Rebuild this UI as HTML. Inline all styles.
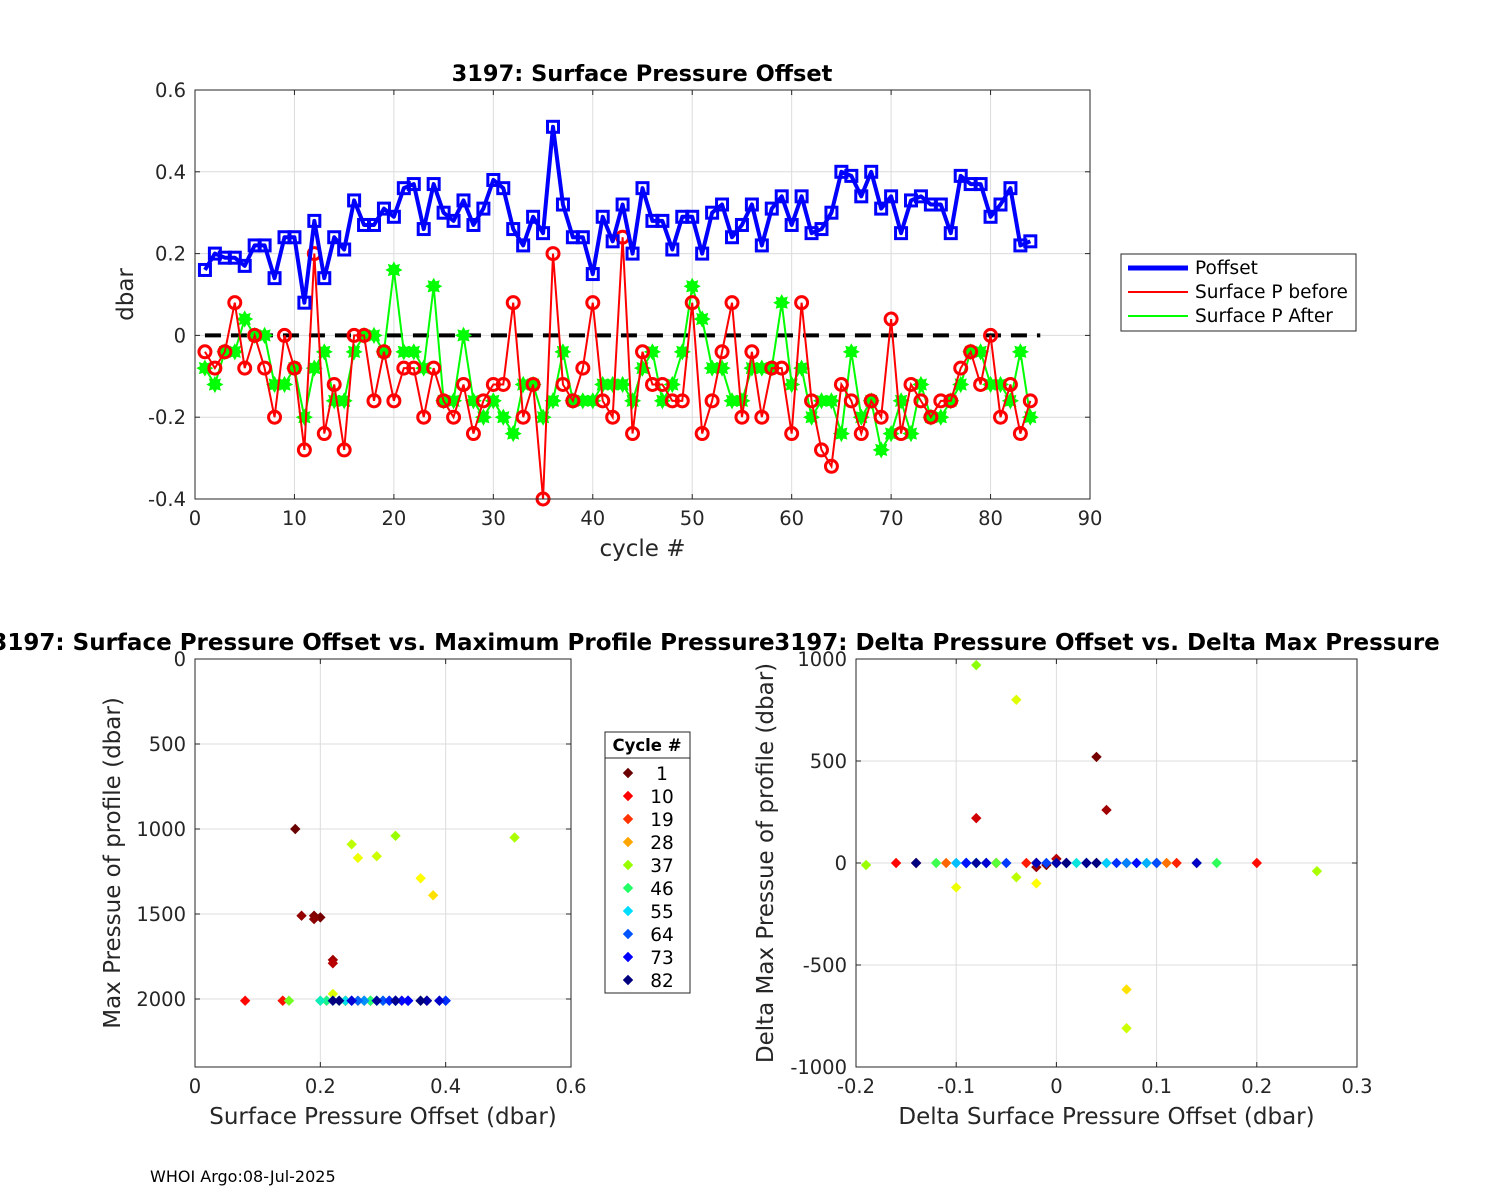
<!DOCTYPE html>
<html><head><meta charset="utf-8"><style>
html,body{margin:0;padding:0;background:#fff;}
svg{display:block;font-family:"DejaVu Sans","Liberation Sans",sans-serif;}
</style></head><body>
<svg id="fig" width="1500" height="1200" viewBox="0 0 1500 1200" xmlns="http://www.w3.org/2000/svg"></svg>
<script>
const cycles = [];for(let i=1;i<=84;i++)cycles.push(i);
const poffset = [0.16,0.20,0.19,0.19,0.17,0.22,0.22,0.14,0.24,0.24,0.08,0.28,0.14,0.24,0.21,0.33,0.27,0.27,0.31,0.29,0.36,0.37,0.26,0.37,0.30,0.28,0.33,0.27,0.31,0.38,0.36,0.26,0.22,0.29,0.25,0.51,0.32,0.24,0.24,0.15,0.29,0.23,0.32,0.20,0.36,0.28,0.28,0.21,0.29,0.29,0.20,0.30,0.32,0.24,0.27,0.32,0.22,0.31,0.34,0.27,0.34,0.25,0.26,0.30,0.40,0.39,0.34,0.40,0.31,0.34,0.25,0.33,0.34,0.32,0.32,0.25,0.39,0.37,0.37,0.29,0.32,0.36,0.22,0.23];
const pBefore = [-0.04,-0.08,-0.04,0.08,-0.08,0.0,-0.08,-0.20,0.0,-0.08,-0.28,0.20,-0.24,-0.12,-0.28,0.0,0.0,-0.16,-0.04,-0.16,-0.08,-0.08,-0.20,-0.08,-0.16,-0.20,-0.12,-0.24,-0.16,-0.12,-0.12,0.08,-0.20,-0.12,-0.40,0.20,-0.12,-0.16,-0.08,0.08,-0.16,-0.20,0.24,-0.24,-0.04,-0.12,-0.12,-0.16,-0.16,0.08,-0.24,-0.16,-0.04,0.08,-0.20,-0.04,-0.20,-0.08,-0.08,-0.24,0.08,-0.16,-0.28,-0.32,-0.12,-0.16,-0.24,-0.16,-0.20,0.04,-0.24,-0.12,-0.16,-0.20,-0.16,-0.16,-0.08,-0.04,-0.12,0.0,-0.20,-0.12,-0.24,-0.16];
const pAfter = [-0.08,-0.12,-0.04,-0.04,0.04,0.0,0.0,-0.12,-0.12,-0.08,-0.20,-0.08,-0.04,-0.16,-0.16,-0.04,0.0,0.0,-0.04,0.16,-0.04,-0.04,-0.08,0.12,-0.16,-0.16,0.0,-0.16,-0.20,-0.16,-0.20,-0.24,-0.12,-0.12,-0.20,-0.16,-0.04,-0.16,-0.16,-0.16,-0.12,-0.12,-0.12,-0.16,-0.08,-0.04,-0.16,-0.12,-0.04,0.12,0.04,-0.08,-0.08,-0.16,-0.16,-0.08,-0.08,-0.08,0.08,-0.12,-0.08,-0.20,-0.16,-0.16,-0.24,-0.04,-0.20,-0.16,-0.28,-0.24,-0.16,-0.24,-0.12,-0.20,-0.20,-0.16,-0.12,-0.04,-0.04,-0.12,-0.12,-0.16,-0.04,-0.20];
const maxP = [1000,1520,1510,1530,1510,1770,1790,2010,2010,2010,2010,2010,2010,2010,2010,2010,2010,2010,2010,2010,2010,2010,2010,2010,2010,2010,2010,2010,2010,1390,1290,1170,1970,1160,1090,1050,1040,2010,2010,2010,2010,2010,2010,2010,2010,2010,2010,2010,2010,2010,2010,2010,2010,2010,2010,2010,2010,2010,2010,2010,2010,2010,2010,2010,2010,2010,2010,2010,2010,2010,2010,2010,2010,2010,2010,2010,2010,2010,2010,2010,2010,2010,2010,2010];
const legendCycles = [1,10,19,28,37,46,55,64,73,82];
const legendColors = ["#6b0000","#ff0000","#ff3300","#ffa500","#99ff00","#22ff66","#00ddff","#0055ff","#0000ff","#00007f"];
const cmapCycles = [1,6,10,19,28,31,37,46,55,64,73,82];
const cmapColors = ["#6b0000","#a00000","#ff0000","#ff3300","#ffa500","#ffff00","#99ff00","#22ff66","#00ddff","#0055ff","#0000ff","#00007f"];
const topXTicks = [0,10,20,30,40,50,60,70,80,90];
const topYTicks = [0.6,0.4,0.2,0,-0.2,-0.4];
const blXTicks = [0,0.2,0.4,0.6];
const blYTicks = [0,500,1000,1500,2000];
const brXTicks = [-0.2,-0.1,0,0.1,0.2,0.3];
const brYTicks = [1000,500,0,-500,-1000];

const NS="http://www.w3.org/2000/svg";
const svg=document.getElementById('fig');
function mk(tag,attrs,parent,text){const e=document.createElementNS(NS,tag);for(const k in attrs)e.setAttribute(k,attrs[k]);if(text!==undefined)e.textContent=text;(parent||svg).appendChild(e);return e;}
function hex(c){return [parseInt(c.substr(1,2),16),parseInt(c.substr(3,2),16),parseInt(c.substr(5,2),16)];}
function cycColor(c){
  if(c<=cmapCycles[0])return cmapColors[0];
  for(let i=0;i<cmapCycles.length-1;i++){if(c<=cmapCycles[i+1]){const t=(c-cmapCycles[i])/(cmapCycles[i+1]-cmapCycles[i]);const a=hex(cmapColors[i]),b=hex(cmapColors[i+1]);return 'rgb('+a.map((v,j)=>Math.round(v+(b[j]-v)*t)).join(',')+')';}}
  return cmapColors[cmapColors.length-1];
}
function fmt(v){return (Math.round(v*10)/10).toString();}
function axes(g,x0,y0,x1,y1,xs,ys,xt,yt){
  xt.forEach(v=>{const x=xs(v);if(x>x0+1&&x<x1-1){const l=mk('line',{x1:x,x2:x,y1:y0,y2:y1,stroke:'#dcdcdc','stroke-width':1},g);}});
  yt.forEach(v=>{const y=ys(v);if(y>y0+1&&y<y1-1){const l=mk('line',{x1:x0,x2:x1,y1:y,y2:y,stroke:'#dcdcdc','stroke-width':1},g);}});
}
function frame(g,x0,y0,x1,y1,xs,ys,xt,yt,xlab,ylab,xlabY,ylabX){
  const r=mk('rect',{x:x0,y:y0,width:x1-x0,height:y1-y0,fill:'none',stroke:'#262626','stroke-width':1},g);
  
  xt.forEach(v=>{const x=xs(v);mk('line',{x1:x,x2:x,y1:y1,y2:y1-5,stroke:'#262626'},g);mk('line',{x1:x,x2:x,y1:y0,y2:y0+5,stroke:'#262626'},g);
    const t=mk('text',{x:x,y:y1+26,'text-anchor':'middle','font-size':19.5,fill:'#262626'},g,fmt(v));});
  yt.forEach(v=>{const y=ys(v);mk('line',{x1:x0,x2:x0+5,y1:y,y2:y,stroke:'#262626'},g);mk('line',{x1:x1,x2:x1-5,y1:y,y2:y,stroke:'#262626'},g);
    const t=mk('text',{x:x0-9,y:y+7,'text-anchor':'end','font-size':19.5,fill:'#262626'},g,fmt(v));});
  const xl=mk('text',{x:(x0+x1)/2,y:xlabY,'text-anchor':'middle','font-size':23,fill:'#262626'},g,xlab);
  const yl=mk('text',{x:ylabX,y:(y0+y1)/2,'text-anchor':'middle','font-size':23,fill:'#262626',transform:'rotate(-90 '+ylabX+' '+(y0+y1)/2+')'},g,ylab);
}
function star(g,x,y,color){
  const pts=[];for(let i=0;i<16;i++){const a=i*Math.PI/8;const r=i%2?4:6.5;pts.push((x+r*Math.cos(a)).toFixed(1)+','+(y+r*Math.sin(a)).toFixed(1));}
  return mk('polygon',{points:pts.join(' '),fill:color,stroke:color,'stroke-width':2},g);
}
function diamond(g,x,y,color){return mk('polygon',{points:`${x},${y-4.5} ${x+4.5},${y} ${x},${y+4.5} ${x-4.5},${y}`,fill:color,stroke:color,'stroke-width':1},g);}

// ===== TOP =====
{
const g=mk('g',{});
const x0=195,x1=1090,y0=90,y1=499;
const xs=v=>x0+(v-0)/90*(x1-x0), ys=v=>y0+(0.6-v)/1.0*(y1-y0);
axes(g,x0,y0,x1,y1,xs,ys,topXTicks,topYTicks);
const z=mk('line',{x1:xs(1),x2:xs(85),y1:ys(0),y2:ys(0),stroke:'#000','stroke-width':4,'stroke-dasharray':'16,10'},g);
const gp=mk('polyline',{points:cycles.map((c,i)=>xs(c)+','+ys(pAfter[i])).join(' '),fill:'none',stroke:'#00ff00','stroke-width':2},g);
cycles.forEach((c,i)=>{const s=star(g,xs(c),ys(pAfter[i]),'#00ff00');});
const rp=mk('polyline',{points:cycles.map((c,i)=>xs(c)+','+ys(pBefore[i])).join(' '),fill:'none',stroke:'#ff0000','stroke-width':2},g);
cycles.forEach((c,i)=>{const s=mk('circle',{cx:xs(c),cy:ys(pBefore[i]),r:6,fill:'none',stroke:'#ff0000','stroke-width':3},g);});
const bp=mk('polyline',{points:cycles.map((c,i)=>xs(c)+','+ys(poffset[i])).join(' '),fill:'none',stroke:'#0000ff','stroke-width':4,'stroke-linejoin':'round'},g);
cycles.forEach((c,i)=>{const s=mk('rect',{x:xs(c)-5.5,y:ys(poffset[i])-5.5,width:11,height:11,fill:'none',stroke:'#0000ff','stroke-width':3},g);});
frame(g,x0,y0,x1,y1,xs,ys,topXTicks,topYTicks,'cycle #','dbar',556,133);
const t=mk('text',{x:642,y:81,'text-anchor':'middle','font-size':22.5,'font-weight':'bold',fill:'#000'},g,'3197: Surface Pressure Offset');
const lg=mk('g',{},g);
mk('rect',{x:1121,y:254,width:235,height:77,fill:'#fff',stroke:'#262626'},lg);
const items=[['Poffset','#0000ff',5],['Surface P before','#ff0000',2],['Surface P After','#00ff00',2]];
items.forEach((it,i)=>{const y=268+i*24;const e=mk('g',{},lg);
  mk('line',{x1:1128,x2:1188,y1:y,y2:y,stroke:it[1],'stroke-width':it[2]},e);
  mk('text',{x:1195,y:y+6,'font-size':18.5,fill:'#000'},e,it[0]);});
}
// ===== BOTTOM LEFT =====
{
const g=mk('g',{});
const x0=195,x1=571,y0=659,y1=1067;
const xs=v=>x0+v/0.6*(x1-x0), ys=v=>y0+v/2400*(y1-y0);
axes(g,x0,y0,x1,y1,xs,ys,blXTicks,blYTicks);
cycles.forEach((c,i)=>{const d=diamond(g,xs(poffset[i]),ys(maxP[i]),cycColor(c));});
frame(g,x0,y0,x1,y1,xs,ys,blXTicks,blYTicks,'Surface Pressure Offset (dbar)','Max Pressue of profile (dbar)',1124,120);
const t=mk('text',{x:383,y:650,'text-anchor':'middle','font-size':23,'font-weight':'bold',fill:'#000'},g,'3197: Surface Pressure Offset vs. Maximum Profile Pressure');
const lg=mk('g',{},g);
mk('rect',{x:605,y:732,width:85,height:261,fill:'#fff',stroke:'#262626'},lg);
mk('line',{x1:605,x2:690,y1:758,y2:758,stroke:'#262626'},lg);
mk('text',{x:647,y:751,'text-anchor':'middle','font-size':16.5,'font-weight':'bold',fill:'#000'},lg,'Cycle #');
legendCycles.forEach((c,i)=>{const y=773+i*23;const e=mk('g',{},lg);
  diamond(e,628,y,legendColors[i]);mk('text',{x:662,y:y+7,'text-anchor':'middle','font-size':18.5,fill:'#000'},e,String(c));});
}
// ===== BOTTOM RIGHT =====
{
const g=mk('g',{});
const x0=856,x1=1357,y0=659,y1=1067;
const xs=v=>x0+(v+0.2)/0.5*(x1-x0), ys=v=>y0+(1000-v)/2000*(y1-y0);
axes(g,x0,y0,x1,y1,xs,ys,brXTicks,brYTicks);
for(let i=1;i<cycles.length;i++){const dx=poffset[i]-poffset[i-1],dy=maxP[i]-maxP[i-1];const d=diamond(g,xs(dx),ys(dy),cycColor(cycles[i]));}
frame(g,x0,y0,x1,y1,xs,ys,brXTicks,brYTicks,'Delta Surface Pressure Offset (dbar)','Delta Max Pressue of profile (dbar)',1124,773);
const t=mk('text',{x:1107,y:650,'text-anchor':'middle','font-size':23,'font-weight':'bold',fill:'#000'},g,'3197: Delta Pressure Offset vs. Delta Max Pressure');
}
const f=mk('text',{x:150,y:1182,'font-size':16,fill:'#000'},svg,'WHOI Argo:08-Jul-2025');
</script>
</body></html>
